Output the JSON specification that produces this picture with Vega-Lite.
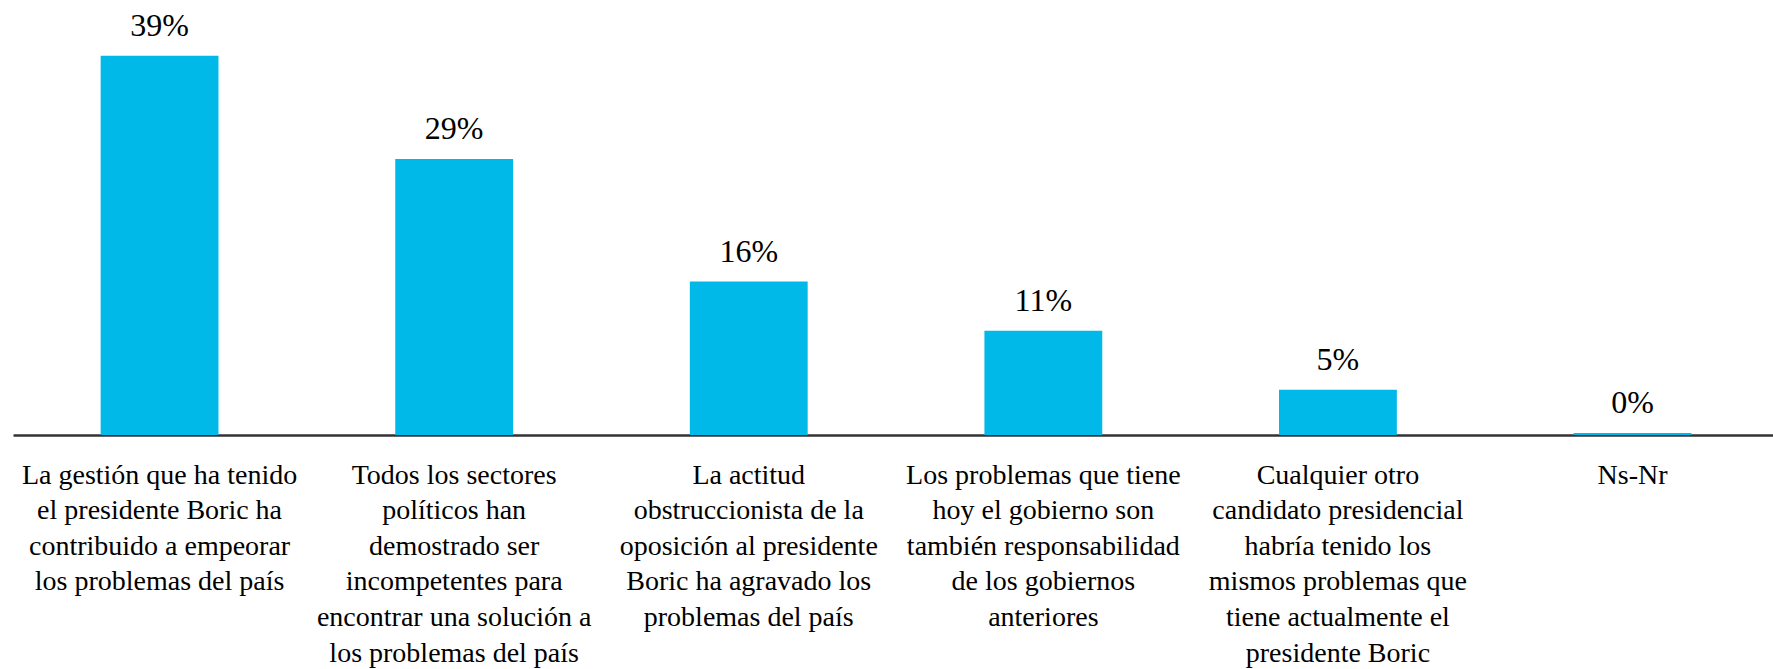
{
  "$schema": "https://vega.github.io/schema/vega-lite/v6.json",
  "autosize": {"type": "none"},
  "padding": {"left": 13, "top": 0, "right": 0, "bottom": 234},
  "width": 1760,
  "height": 435,
  "background": "white",
  "config": {"view": {"stroke": null}},
  "data": {
    "values": [
      {"category": "La gestión que ha tenido|el presidente Boric ha|contribuido a empeorar|los problemas del país", "value": 39.3, "label": "39%"},
      {"category": "Todos los sectores|políticos han|demostrado ser|incompetentes para|encontrar una solución a|los problemas del país", "value": 28.6, "label": "29%"},
      {"category": "La actitud|obstruccionista de la|oposición al presidente|Boric ha agravado los|problemas del país", "value": 15.9, "label": "16%"},
      {"category": "Los problemas que tiene|hoy el gobierno son|también responsabilidad|de los gobiernos|anteriores", "value": 10.8, "label": "11%"},
      {"category": "Cualquier otro|candidato presidencial|habría tenido los|mismos problemas que|tiene actualmente el|presidente Boric", "value": 4.7, "label": "5%"},
      {"category": "Ns-Nr", "value": 0.2, "label": "0%"}
    ]
  },
  "encoding": {
    "x": {
      "field": "category",
      "type": "nominal",
      "sort": null,
      "scale": {"paddingInner": 0.6, "paddingOuter": 0.2872, "align": 0.518},
      "axis": {
        "title": null,
        "ticks": false,
        "domain": true,
        "domainColor": "#333333",
        "domainWidth": 2.5,
        "labelAngle": 0,
        "labelExpr": "split(datum.label, '|')",
        "labelFont": "Liberation Serif",
        "labelFontSize": 28,
        "labelColor": "#000000",
        "labelLineHeight": 35.6,
        "labelBaseline": "alphabetic",
        "labelPadding": 48,
        "labelLimit": 0,
        "labelOverlap": false,
        "labelFlush": false
      }
    },
    "y": {
      "field": "value",
      "type": "quantitative",
      "scale": {"domain": [0, 45.08], "nice": false, "zero": true},
      "axis": null
    }
  },
  "layer": [
    {"mark": {"type": "bar", "color": "#00B9E9"}},
    {
      "mark": {
        "type": "text",
        "font": "Liberation Serif",
        "fontSize": 32,
        "color": "#000000",
        "baseline": "alphabetic",
        "align": "center",
        "dy": -20
      },
      "encoding": {"text": {"field": "label"}}
    }
  ]
}
